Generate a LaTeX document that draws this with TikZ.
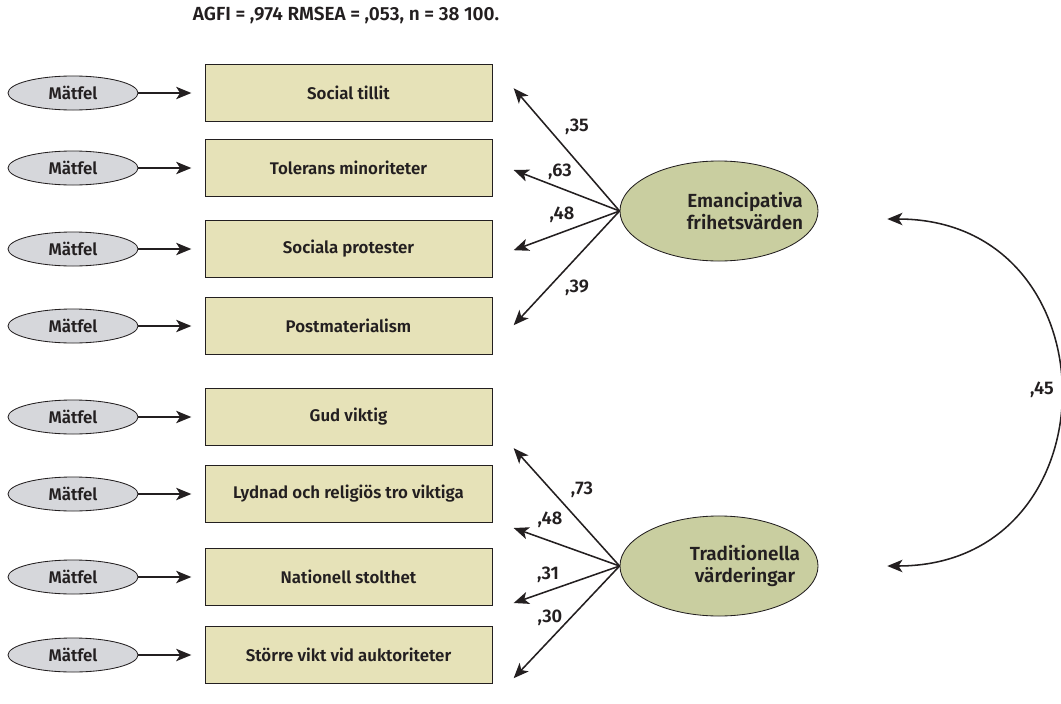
\documentclass[tikz,border=0pt]{standalone}
\usepackage{fontspec}
\setmainfont{Fira Sans}[BoldFont={Fira Sans SemiBold}]
\usetikzlibrary{arrows.meta,shapes.geometric}
\definecolor{feilgra}{RGB}{214,215,219}
\definecolor{boksgul}{RGB}{230,226,184}
\definecolor{latentgronn}{RGB}{201,206,160}
\definecolor{mork}{RGB}{35,31,32}
\tikzset{
  matfel/.style={ellipse,draw=mork,line width=0.6pt,fill=feilgra,minimum width=3.25cm,minimum height=0.85cm,inner sep=0pt},
  obsbox/.style={rectangle,draw=mork,line width=0.6pt,fill=boksgul,minimum width=7.175cm,minimum height=1.42cm},
  latent/.style={ellipse,draw=mork,line width=0.6pt,fill=latentgronn,minimum width=4.95cm,minimum height=2.5cm,inner sep=0pt},
  latenttekst/.style={align=center,xshift=0.65cm,font=\fontsize{13.5}{16}\selectfont\bfseries},
  pil/.style={draw=mork,line width=1.1pt,-{Stealth[length=3.8mm,width=3.1mm,inset=1mm]}},
  tal/.style={text=mork,font=\fontsize{13}{15}\selectfont\bfseries}
}
\begin{document}
\begin{tikzpicture}[x=0.025cm,y=-0.025cm,font=\fontsize{12}{14}\selectfont\bfseries,text=mork]
   \useasboundingbox (0,0) rectangle (1061,704);
   \node (titel) at (346,15) {\fontsize{13.5}{15}\selectfont AGFI = ,974 RMSEA = ,053, n = 38 100.};
   \foreach \i/\yy/\txt in {1/93/Social tillit,2/168/Tolerans minoriteter,3/249/Sociala protester,4/326/Postmaterialism,5/417/Gud viktig,6/494/Lydnad och religiös tro viktiga,7/577/Nationell stolthet,8/655/Större vikt vid auktoriteter}{
      \node [matfel] (m\i) at (73,\yy) {Mätfel};
      \node [obsbox] (o\i) at (348.5,\yy) {\txt};
      \draw [pil,shorten >=0.33cm] (m\i) -- (o\i);
   }
   \node [latent,label={[latenttekst]center:Emancipativa\\frihetsvärden}] (eman) at (719,211) {};
   \node [latent,label={[latenttekst]center:Traditionella\\värderingar}] (trad) at (719,566) {};
   \foreach \i/\dy in {1/0.12,2/-0.05,3/-0.03,4/0.02}
      \draw [pil] (eman.west) -- ([xshift=0.53cm,yshift=\dy cm]o\i.east);
   \foreach \i/\dy in {5/-0.78,6/-0.85,7/-0.65,8/-0.58}
      \draw [pil] (trad.west) -- ([xshift=0.53cm,yshift=\dy cm]o\i.east);
   \draw [pil,{Stealth[length=3.8mm,width=3.1mm,inset=1mm]}-{Stealth[length=3.8mm,width=3.1mm,inset=1mm]}]
      ([xshift=1.72cm,yshift=-0.2cm]eman.east) to [out=0,in=0,looseness=1.7] ([xshift=1.72cm]trad.east);
   \node [tal] (l35) at (577,127) {,35};
   \node [tal] (l63) at (560,172) {,63};
   \node [tal] (l48a) at (562,215) {,48};
   \node [tal] (l39) at (577,288) {,39};
   \node [tal] (l73) at (582,490) {,73};
   \node [tal] (l48b) at (550,520) {,48};
   \node [tal] (l31) at (548,575) {,31};
   \node [tal] (l30) at (550,618) {,30};
   \node [tal] (l45) at (1042,390) {,45};
\end{tikzpicture}
\end{document}
